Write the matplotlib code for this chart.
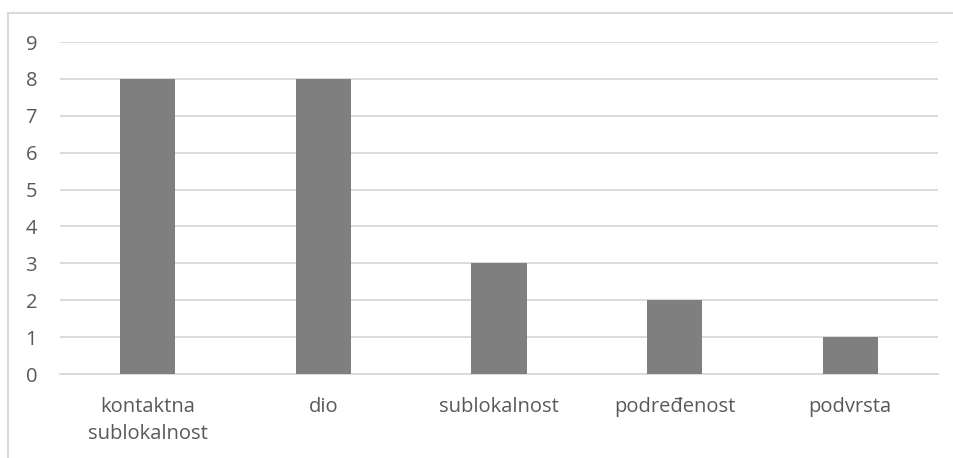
import matplotlib.pyplot as plt
from matplotlib.patches import Rectangle

categories = ["kontaktna\nsublokalnost", "dio", "sublokalnost", "podređenost", "podvrsta"]
values = [8, 8, 3, 2, 1]
yticks = list(range(0, 10))

plt.rcParams['font.family'] = ['Open Sans', 'DejaVu Sans']
text_color = "#595959"
grid_color = "#d9d9d9"

W, H = 954, 458
fig = plt.figure(figsize=(W / 100, H / 100), dpi=100)
ax = fig.add_axes([60 / W, 1 - 374 / H, (938 - 60) / W, (374 - 42) / H])

x = range(len(categories))
ax.bar(x, values, width=0.315, color="#7f7f7f", zorder=3)

ax.set_xlim(-0.5, len(categories) - 0.5)
ax.set_ylim(0, 9)
ax.set_yticks(yticks)
ax.set_xticks(list(x))
ax.set_xticklabels(categories, linespacing=1.5)
ax.yaxis.grid(True, color=grid_color, linewidth=1.3, zorder=0)
for s in ["top", "right", "left"]:
    ax.spines[s].set_visible(False)
ax.spines["bottom"].set_color(grid_color)
ax.spines["bottom"].set_linewidth(1.3)
ax.tick_params(axis="both", length=0, labelsize=14.5, colors=text_color)
ax.tick_params(axis="y", pad=16.5)
ax.tick_params(axis="x", pad=16.5)

# chart border (cropped: only top and left edges visible)
fig.add_artist(Rectangle((8 / W, -0.2), 2, 1.2 - 13 / H, transform=fig.transFigure,
                         fill=False, edgecolor=grid_color, linewidth=1.5))

fig.savefig("out.png", dpi=100)
